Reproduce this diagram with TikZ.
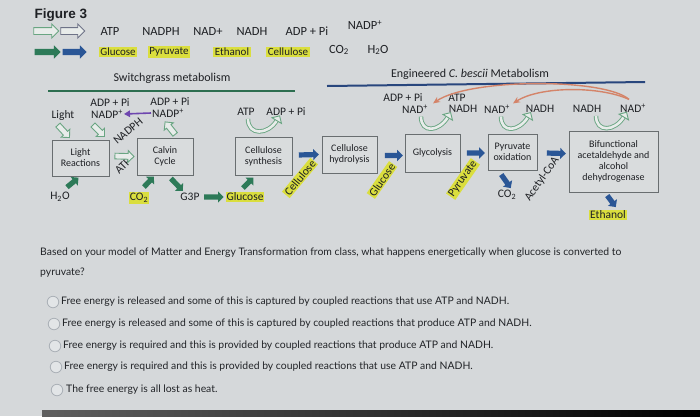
\documentclass[tikz,border=0pt]{standalone}
\usepackage{fontspec}
\setmainfont{Carlito}
\newfontfamily\arialf{Liberation Sans}
\newfontfamily\latof{Lato}
\usetikzlibrary{shapes.arrows,calc,arrows.meta}
\definecolor{bg}{RGB}{213,216,218}
\definecolor{boxfill}{RGB}{217,220,221}
\definecolor{boxc}{RGB}{105,110,112}
\definecolor{olg}{RGB}{105,165,130}
\definecolor{olfill}{RGB}{232,236,234}
\definecolor{olgrey}{RGB}{110,115,135}
\definecolor{sg}{RGB}{45,122,88}
\definecolor{sb}{RGB}{42,86,150}
\definecolor{hl}{RGB}{218,222,62}
\definecolor{purp}{RGB}{110,70,175}
\definecolor{orng}{RGB}{212,132,105}
\definecolor{lineg}{RGB}{45,110,80}
\definecolor{lineb}{RGB}{40,70,125}
\definecolor{txt}{RGB}{30,32,36}
\definecolor{qtxt}{RGB}{34,36,40}
\definecolor{radio}{RGB}{170,176,182}
\definecolor{radiofill}{RGB}{226,229,231}
\newcommand\blk[3]{\path let \p1=($(#3)-(#2)$), \n1={veclen(\x1,\y1)} in (#2) -- (#3) node[midway, sloped, allow upside down, minimum height=\n1, #1] {};}
\newcommand\uarr[3]{%
 \draw[olg, line width=4.4pt] (#1) .. controls +(0,17) and +(-9,15) .. (#2);
 \draw[olfill, line width=2.6pt] (#1) .. controls +(0,17) and +(-9,15) .. (#2);
 \filldraw[fill=olfill, draw=olg, line width=0.9pt, shift={(#2)}, rotate=#3] (-0.5,-5.5) -- (5,0) -- (-0.5,5.5) -- cycle;}
\newcommand\sps{\textsuperscript{+}}
\newcommand\sbt{\textsubscript{2}}
\begin{document}
\begin{tikzpicture}[x=1pt,y=-1pt,
  every node/.style={text=txt},
  barr/.style={single arrow, inner sep=2.4pt, single arrow head extend=3pt, single arrow head indent=0pt, single arrow tip angle=90, draw=none},
  hbarr/.style={barr, inner sep=3pt, single arrow head extend=3.5pt},
  ola/.style={barr, draw=olg, fill=olfill, line width=0.9pt},
  sga/.style={barr, fill=sg},
  sba/.style={barr, fill=sb},
  box/.style={draw=boxc, fill=boxfill, line width=1pt, align=center, font=\fontsize{10}{11}\selectfont, inner sep=1pt},
  lbl/.style={font=\fontsize{11.5}{12}\selectfont, inner sep=1pt, align=center},
  hdr/.style={font=\fontsize{12.5}{13}\selectfont, inner sep=1pt},
  hdrb/.style={font=\fontsize{11}{12}\selectfont, inner sep=1.5pt},
  hlt/.style={fill=hl},
  rot/.style={font=\fontsize{11.5}{12}\selectfont, inner sep=1pt},
  q/.style={font=\latof\fontsize{10.4}{12}\selectfont, text=qtxt, anchor=west, inner sep=0pt},
  radiob/.style={circle, draw=radio, fill=radiofill, line width=0.8pt, minimum size=11.5pt, inner sep=0pt}]
\fill[bg] (0,0) rectangle (700,416);
\useasboundingbox (0,0) rectangle (700,416);
\shade[left color=gray!75!black, right color=black] (42,410) rectangle (700,416);

% ---------- legend ----------
\node[font=\arialf\bfseries\fontsize{13.5}{14}\selectfont, inner sep=0pt] (fig) at (61,15) {Figure 3};
\coordinate (l1a) at (32,31); \coordinate (l1b) at (57,31);
\coordinate (l2a) at (59,31); \coordinate (l2b) at (83,31);
\coordinate (l3a) at (33,52); \coordinate (l3b) at (59,52);
\coordinate (l4a) at (61,52); \coordinate (l4b) at (85,52);
\blk{ola, hbarr, draw=olg, fill=olfill}{l1a}{l1b}
\blk{ola, hbarr, draw=olgrey, fill=olfill}{l2a}{l2b}
\blk{hbarr, fill=sg}{l3a}{l3b}
\blk{hbarr, fill=sb}{l4a}{l4b}
\node[hdr] (katp) at (110,31) {ATP};
\node[hdr] (knadph) at (161,31) {NADPH};
\node[hdr] (knad) at (208,31) {NAD+};
\node[hdr] (knadh) at (252,31) {NADH};
\node[hdr] (kadp) at (307,31) {ADP + Pi};
\node[hdr] (knadp) at (365,25) {NADP\sps};
\node[hdrb, hlt] (kglc) at (118,52) {Glucose};
\node[hdrb, hlt] (kpyr) at (169,52) {Pyruvate};
\node[hdrb, hlt] (keth) at (232,52) {Ethanol};
\node[hdrb, hlt] (kcel) at (288,52) {Cellulose};
\node[hdr] (kco2) at (339,50) {CO\sbt};
\node[hdr] (kh2o) at (378,50) {H\sbt O};

% ---------- titles ----------
\node[font=\fontsize{12}{13}\selectfont, inner sep=0pt] (t1) at (172,78) {Switchgrass metabolism};
\draw[lineg, line width=2pt] (48,91) -- (295,91);
\node[font=\fontsize{12}{13}\selectfont, inner sep=0pt] (t2) at (470,74) {Engineered \textit{C. bescii} Metabolism};
\draw[lineb, line width=2pt] (327,86) -- (645,82);

% ---------- boxes ----------
\node[box, minimum width=57pt, minimum height=36pt] (lr) at (80.5,158) {Light\\Reactions};
\node[box, minimum width=56pt, minimum height=37pt] (cc) at (165,156.5) {Calvin\\Cycle};
\node[box, minimum width=57pt, minimum height=38pt] (cs) at (263.5,156) {Cellulose\\synthesis};
\node[box, minimum width=55pt, minimum height=37pt] (ch) at (349.5,154.5) {Cellulose\\hydrolysis};
\node[box, minimum width=55pt, minimum height=38pt] (gl) at (432.5,153) {Glycolysis};
\node[box, minimum width=49pt, minimum height=36pt] (po) at (512.5,152) {Pyruvate\\oxidation};
\node[box, minimum width=89pt, minimum height=61pt] (bf) at (613.5,161.5) {Bifunctional\\acetaldehyde and\\alcohol\\dehydrogenase};

% ---------- left labels ----------
\node[lbl] (light) at (63,115) {Light};
\node[lbl] (adp1) at (110,103) {ADP + Pi};
\node[lbl] (nadp1) at (107,114) {NADP\sps};
\node[lbl] (adp2) at (170,102) {ADP + Pi};
\node[lbl] (nadp2) at (168,113) {NADP\sps};
\node[lbl, rotate=40] (nadph) at (128,131) {NADPH};
\node[lbl, rotate=45] (atpl) at (123,166) {ATP};
\node[lbl] (h2o) at (60,197) {H\sbt O};
\node[lbl, hlt] (co2) at (139,198) {CO\sbt};
\node[lbl] (g3p) at (190,197) {G3P};
\node[lbl, hlt] (glc) at (245,197) {Glucose};
\node[lbl] (atp3) at (246,112) {ATP};
\node[lbl] (adp3) at (286,112) {ADP + Pi};
\node[rot, hlt, rotate=50] (cel) at (300,178) {Cellulose};

% ---------- right labels ----------
\node[lbl] (adp4) at (403,98) {ADP + Pi};
\node[lbl] (nad4) at (415,109) {NAD\sps};
\node[lbl] (atp4) at (457,98) {ATP};
\node[lbl] (nadh4) at (463,109) {NADH};
\node[lbl] (nad5) at (497,109) {NAD\sps};
\node[lbl] (nadh5) at (540,109) {NADH};
\node[lbl] (nadh6) at (587,109) {NADH};
\node[lbl] (nad6) at (633,108) {NAD\sps};
\node[rot, hlt, rotate=55] (glc2) at (382,180) {Glucose};
\node[rot, hlt, rotate=55] (pyr2) at (463,179) {Pyruvate};
\node[lbl] (co2b) at (507,195) {CO\sbt};
\node[rot, rotate=55] (acoa) at (542,179) {Acetyl-CoA};
\node[lbl, hlt] (eth) at (608,215) {Ethanol};

% ---------- outline arrows ----------
\blk{ola}{$(light)+(-6,9)$}{$(lr.north west)+(17,-3)$}
\blk{ola}{$(nadp1)+(-15,10)$}{$(lr.north east)+(-6,-4)$}
\blk{ola}{$(cc.north)+(11,-2)$}{$(nadp2)+(-2,10)$}
\blk{ola}{$(lr.east)+(4,-2)$}{$(cc.west)+(-4,0)$}

% ---------- green arrows ----------
\blk{sga}{$(h2o)+(6,-9)$}{$(lr.south)+(-3,2)$}
\blk{sga}{$(co2)+(4,-10)$}{$(cc.south)+(-12,2)$}
\blk{sga}{$(cc.south)+(5,2)$}{$(g3p)+(-8,-7)$}
\blk{sga}{$(g3p.east)+(2,0)$}{$(glc.west)+(-3,0)$}
\blk{sga}{$(glc)+(-3,-8)$}{$(cs.south)+(-11,3)$}

% ---------- blue arrows ----------
\blk{sba}{$(cs.east)+(5,-1)$}{$(ch.west)+(-4,0)$}
\blk{sba}{$(ch.east)+(6,1)$}{$(gl.west)+(-3,2.5)$}
\blk{sba}{$(gl.east)+(5,0)$}{$(po.west)+(-4,1)$}
\blk{sba}{$(po.east)+(8,1)$}{$(bf.west)+(-4,-8)$}
\blk{sba}{$(po.south)+(-12,3)$}{$(co2b)+(3,-8)$}
\blk{sba}{$(bf.south)+(-7,2)$}{$(eth)+(7,-9)$}

% ---------- U arrows ----------
\coordinate (u1s) at ($(atp3.south)+(2,2)$); \coordinate (u1e) at ($(adp3.south)+(-9,3)$);
\uarr{u1s}{u1e}{59}
\coordinate (u2s) at ($(nad4.south)+(6,2)$); \coordinate (u2e) at ($(nadh4.south)+(-15,3)$);
\uarr{u2s}{u2e}{59}
\coordinate (u3s) at ($(nad5.south)+(4,2)$); \coordinate (u3e) at ($(nadh5.south)+(-12,3)$);
\uarr{u3s}{u3e}{59}
\coordinate (u4s) at ($(nadh6.south)+(9,2)$); \coordinate (u4e) at ($(nad6.south)+(-9,3)$);
\uarr{u4s}{u4e}{59}

% ---------- purple and orange ----------
\draw[purp, line width=1.6pt, -{Triangle[length=6pt,width=6.5pt]}] (nadp2.west) -- (nadp1.east);
\coordinate (os) at ($(nad6.north)+(-4,-3)$);
\draw[orng, line width=1.4pt, -{Stealth[length=7pt,width=6pt]}] (os) .. controls (605,78) and (470,78) .. ($(nad4.north east)+(4,0)$);
\draw[orng, line width=1.4pt, -{Stealth[length=7pt,width=6pt]}] (os) .. controls (600,86) and (540,86) .. ($(nad5.north east)+(2,0)$);

% ---------- question ----------
\node[q] (q1) at (40,253) {Based on your model of Matter and Energy Transformation from class, what happens energetically when glucose is converted to};
\node[q] (q2) at (40,273) {pyruvate?};
\node[radiob] (r1) at (53,302) {};
\node[q] (a1) at (61,302) {Free energy is released and some of this is captured by coupled reactions that use ATP and NADH.};
\node[radiob] (r2) at (54,324) {};
\node[q] (a2) at (62,324) {Free energy is released and some of this is captured by coupled reactions that produce ATP and NADH.};
\node[radiob] (r3) at (55,346) {};
\node[q] (a3) at (63,346) {Free energy is required and this is provided by coupled reactions that produce ATP and NADH.};
\node[radiob] (r4) at (56,367) {};
\node[q] (a4) at (64,367) {Free energy is required and this is provided by coupled reactions that use ATP and NADH.};
\node[radiob] (r5) at (57,390) {};
\node[q] (a5) at (66,390) {The free energy is all lost as heat.};
\end{tikzpicture}
\end{document}
